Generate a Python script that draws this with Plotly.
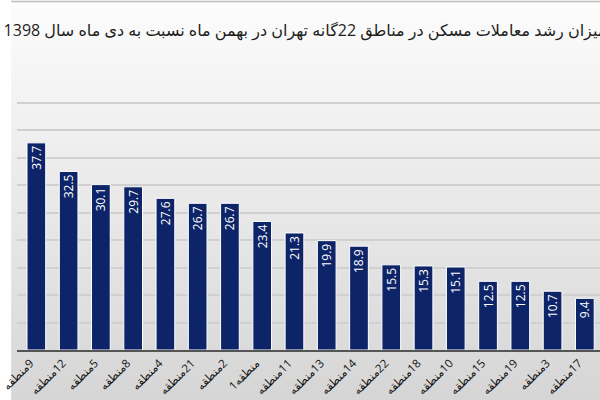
import plotly.graph_objects as go

# ---- data ----
districts = [9, 12, 5, 8, 4, 21, 2, 1, 11, 13, 14, 22, 18, 10, 15, 19, 3, 17]
values = [37.7, 32.5, 30.1, 29.7, 27.6, 26.7, 26.7, 23.4, 21.3, 19.9, 18.9,
          15.5, 15.3, 15.1, 12.5, 12.5, 10.7, 9.4]
LRM = "\u200e"
# tick labels (word then number, except district 1 which shows number first)
tick_labels = [LRM + "منطقه" + LRM + "9", LRM + "منطقه" + LRM + "12",
               LRM + "منطقه" + LRM + "5", LRM + "منطقه" + LRM + "8",
               LRM + "منطقه" + LRM + "4", LRM + "منطقه" + LRM + "21",
               LRM + "منطقه" + LRM + "2", LRM + "منطقه1",
               LRM + "منطقه" + LRM + "11", LRM + "منطقه" + LRM + "13",
               LRM + "منطقه" + LRM + "14", LRM + "منطقه" + LRM + "22",
               LRM + "منطقه" + LRM + "18", LRM + "منطقه" + LRM + "10",
               LRM + "منطقه" + LRM + "15", LRM + "منطقه" + LRM + "19",
               LRM + "منطقه" + LRM + "3", LRM + "منطقه" + LRM + "17"]
title_text = "میزان رشد معاملات مسکن در مناطق 22گانه تهران در بهمن ماه نسبت به دی ماه سال 1398"

BAR = "#0d2468"
FONT = "Open Sans, DejaVu Sans, sans-serif"

x_idx = list(range(len(values)))
fig = go.Figure(go.Bar(
    x=x_idx, y=values,
    marker=dict(color=BAR, line=dict(color="white", width=1)),
    text=[f"{v:.1f}" for v in values],
    textposition="inside", insidetextanchor="end", textangle=-90,
    textfont=dict(color="white", size=12, family=FONT),
    constraintext="none",
))

# background gradient (white at top to light grey at bottom)
H = 400
t_m, b_m = 75, 50
plot_h = H - t_m - b_m
n = 40
shapes = []
for i in range(n):
    ytop_px = i * H / n
    ybot_px = (i + 1) * H / n
    f = (i + 0.5) / n
    c = int(round(252 - f * (252 - 214)))
    col = f"rgb({c},{c},{c})"
    y0 = (H - b_m - ybot_px) / plot_h
    y1 = (H - b_m - ytop_px) / plot_h
    shapes.append(dict(type="rect", xref="paper", yref="paper", x0=-0.01, x1=1.01,
                       y0=y0, y1=y1 + 0.002, fillcolor=col, line=dict(width=0),
                       layer="below"))
# thin top border line
shapes.append(dict(type="line", xref="paper", yref="paper", x0=-0.01, x1=1.01,
                   y0=(H - b_m - 1.5) / plot_h, y1=(H - b_m - 1.5) / plot_h,
                   line=dict(color="#bdbdbd", width=1.5), layer="above"))

fig.update_layout(
    width=600, height=400,
    margin=dict(l=0, r=0, t=t_m, b=b_m, pad=0),
    paper_bgcolor="rgba(0,0,0,0)", plot_bgcolor="rgba(0,0,0,0)",
    shapes=shapes,
    bargap=0.42,
    showlegend=False,
    title=dict(text=title_text, x=0.006, xanchor="left", xref="container",
               y=1 - 30 / H, yanchor="middle", yref="container",
               font=dict(size=16, color="#1e1e1e", family=FONT)),
    xaxis=dict(range=[-0.6, 17.47], tickmode="array", tickvals=x_idx,
               ticktext=tick_labels, tickangle=-45, showgrid=False,
               showline=True, linecolor="#555555", linewidth=2,
               ticks="", ticklabeloverflow="allow", ticklabelshift=-6,
               tickfont=dict(size=11.5, color="#151515", family=FONT),
               fixedrange=True),
    yaxis=dict(range=[0, 50.05], dtick=5, showticklabels=False, showgrid=True,
               gridcolor="#d0d0d0", gridwidth=1.5, zeroline=False,
               showline=False, fixedrange=True),
)

fig.write_html("out.html")
